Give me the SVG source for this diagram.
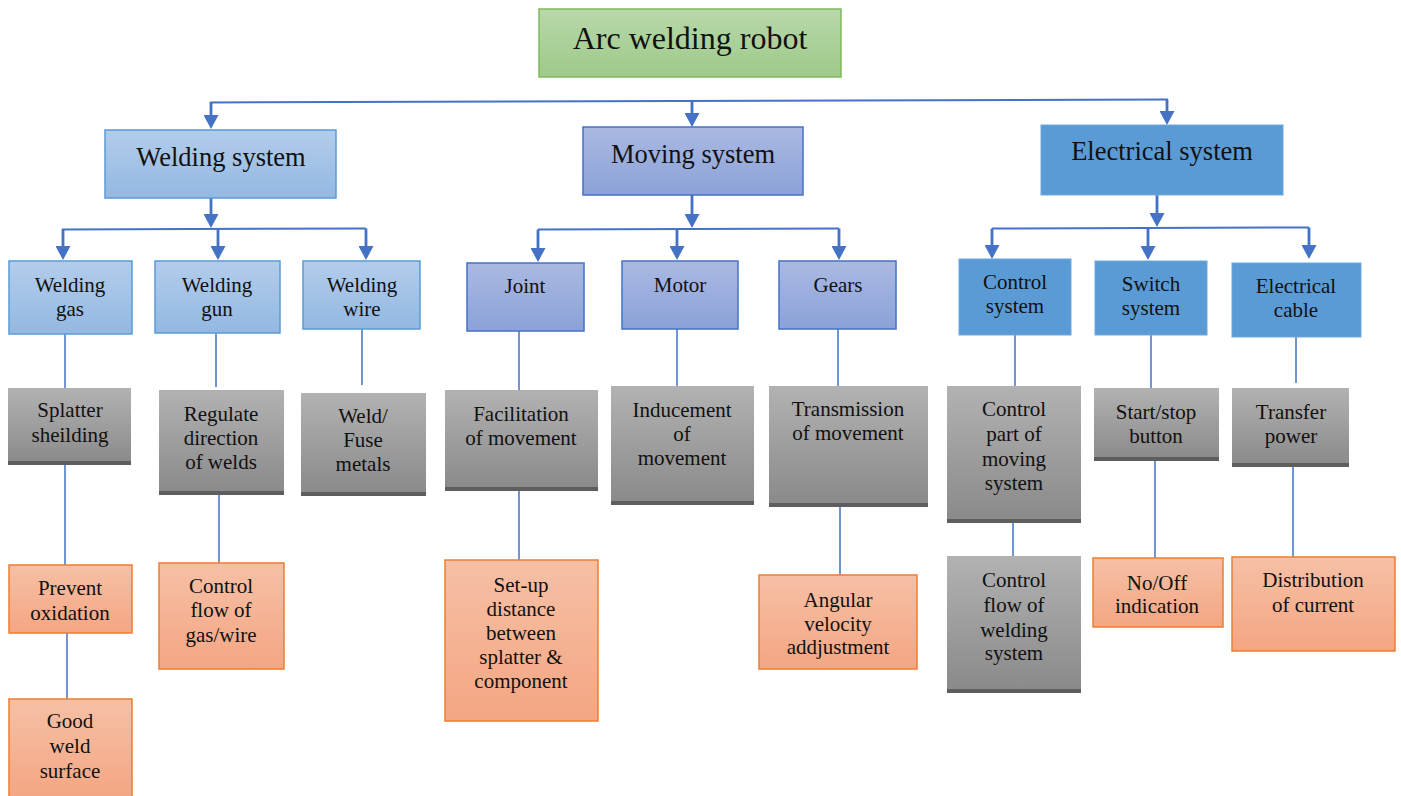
<svg xmlns="http://www.w3.org/2000/svg" width="1401" height="796" viewBox="0 0 1401 796">
  <defs>
    <linearGradient id="gGreen" x1="0" y1="0" x2="0" y2="1">
      <stop offset="0" stop-color="#b8d8aa"/>
      <stop offset="1" stop-color="#9eca8a"/>
    </linearGradient>
    <linearGradient id="gLight" x1="0" y1="0" x2="0" y2="1">
      <stop offset="0" stop-color="#b3cdeb"/>
      <stop offset="1" stop-color="#93b8e2"/>
    </linearGradient>
    <linearGradient id="gPurple" x1="0" y1="0" x2="0" y2="1">
      <stop offset="0" stop-color="#aab9e2"/>
      <stop offset="1" stop-color="#8ba2d8"/>
    </linearGradient>
    <linearGradient id="gGray" x1="0" y1="0" x2="0" y2="1">
      <stop offset="0" stop-color="#b2b2b2"/>
      <stop offset="1" stop-color="#898989"/>
    </linearGradient>
    <linearGradient id="gOrange" x1="0" y1="0" x2="0" y2="1">
      <stop offset="0" stop-color="#f6c0a6"/>
      <stop offset="1" stop-color="#f4a682"/>
    </linearGradient>
    <marker id="ah" markerUnits="userSpaceOnUse" viewBox="0 0 14 15" markerWidth="14" markerHeight="15" refX="9" refY="7.5" orient="auto">
      <path d="M0,0 L14,7.5 L0,15 z" fill="#4472c4"/>
    </marker>
  </defs>
  <style>
    text { font-family: "Liberation Serif", "Times New Roman", serif; fill: #111; text-anchor: middle; }
    .t0 { font-size: 32px; }
    .t1 { font-size: 26.5px; }
    .t2 { font-size: 21px; }
    .root { fill: url(#gGreen); stroke: #7fba5c; stroke-width: 1.5; }
    .light { fill: url(#gLight); stroke: #5b9bd5; stroke-width: 1.5; }
    .purple { fill: url(#gPurple); stroke: #4472c4; stroke-width: 1.5; }
    .solid { fill: #5b9bd5; stroke: #6ea7db; stroke-width: 1; }
    .gray { fill: url(#gGray); }
    .bar { fill: #5e5e5e; }
    .orange { fill: url(#gOrange); stroke: #ed7d31; stroke-width: 1.5; }
    .arrow { fill: none; stroke: #4472c4; stroke-width: 2.8; marker-end: url(#ah); }
    .bus { fill: none; stroke: #4472c4; stroke-width: 2; }
    .link { fill: none; stroke: #4472c4; stroke-width: 1.5; }
  </style>

  <rect width="1401" height="796" fill="#ffffff"/>

  <!-- connectors -->
  <g id="connectors">
    <!-- root to main systems -->
    <path class="bus" d="M210,102.5 L1168,99.5"/>
    <path class="arrow" d="M211,102 L211,124"/>
    <path class="arrow" d="M692,101 L692,122"/>
    <path class="arrow" d="M1167,99.5 L1167,120"/>

    <!-- welding system branch -->
    <path class="arrow" d="M211,198 L211,223"/>
    <path class="bus" d="M63,230 L63,229.5 L366,228.5"/>
    <path class="arrow" d="M63,229 L63,255"/>
    <path class="arrow" d="M218,229 L218,255"/>
    <path class="arrow" d="M366,228.5 L366,255"/>

    <!-- moving system branch -->
    <path class="arrow" d="M692,195 L692,223"/>
    <path class="bus" d="M538,229.5 L839,228.5"/>
    <path class="arrow" d="M538,229.5 L538,257"/>
    <path class="arrow" d="M677,229 L677,255"/>
    <path class="arrow" d="M839,228.5 L839,255"/>

    <!-- electrical system branch -->
    <path class="arrow" d="M1157,195 L1157,222"/>
    <path class="bus" d="M992,228.5 L1309,227.5"/>
    <path class="arrow" d="M992,228.5 L992,254"/>
    <path class="arrow" d="M1148,228 L1148,255"/>
    <path class="arrow" d="M1309,227.5 L1309,254"/>

    <!-- components to functions -->
    <path class="link" d="M65,334 L65,388"/>
    <path class="link" d="M216,333 L216,387"/>
    <path class="link" d="M362,329 L362,385"/>
    <path class="link" d="M519,331 L519,390"/>
    <path class="link" d="M677,326 L677,387"/>
    <path class="link" d="M838,329 L838,387"/>
    <path class="link" d="M1015,335 L1015,386"/>
    <path class="link" d="M1151,335 L1151,388"/>
    <path class="link" d="M1296,337 L1296,383"/>

    <!-- functions to outcomes -->
    <path class="link" d="M65,465 L65,565"/>
    <path class="link" d="M67,633 L67,699"/>
    <path class="link" d="M219,495 L219,563"/>
    <path class="link" d="M519,491 L519,560"/>
    <path class="link" d="M840,507 L840,575"/>
    <path class="link" d="M1013,523 L1013,556"/>
    <path class="link" d="M1155,461 L1155,558"/>
    <path class="link" d="M1293,467 L1293,557"/>
  </g>

  <!-- root -->
  <g id="arc-welding-robot">
    <rect class="root" x="539" y="9" width="302" height="68"/>
    <text class="t0" x="690" y="49">Arc welding robot</text>
  </g>

  <!-- main systems -->
  <g id="welding-system">
    <rect class="light" x="105" y="130" width="231" height="68"/>
    <text class="t1" x="221" y="166">Welding system</text>
  </g>
  <g id="moving-system">
    <rect class="purple" x="583" y="127" width="220" height="68"/>
    <text class="t1" x="693" y="163">Moving system</text>
  </g>
  <g id="electrical-system">
    <rect class="solid" x="1041" y="125" width="242" height="70"/>
    <text class="t1" x="1162" y="160">Electrical system</text>
  </g>

  <!-- components -->
  <g id="welding-gas">
    <rect class="light" x="9" y="261" width="123" height="73"/>
    <text class="t2" x="70" y="292">Welding</text>
    <text class="t2" x="70" y="316">gas</text>
  </g>
  <g id="welding-gun">
    <rect class="light" x="155" y="261" width="125" height="72"/>
    <text class="t2" x="217" y="292">Welding</text>
    <text class="t2" x="217" y="316">gun</text>
  </g>
  <g id="welding-wire">
    <rect class="light" x="303" y="261" width="117" height="68"/>
    <text class="t2" x="362" y="292">Welding</text>
    <text class="t2" x="362" y="316">wire</text>
  </g>
  <g id="joint">
    <rect class="purple" x="467" y="263" width="117" height="68"/>
    <text class="t2" x="525" y="293">Joint</text>
  </g>
  <g id="motor">
    <rect class="purple" x="622" y="261" width="116" height="68"/>
    <text class="t2" x="680" y="292">Motor</text>
  </g>
  <g id="gears">
    <rect class="purple" x="779" y="261" width="117" height="68"/>
    <text class="t2" x="838" y="292">Gears</text>
  </g>
  <g id="control-system">
    <rect class="solid" x="959" y="259" width="112" height="76"/>
    <text class="t2" x="1015" y="289">Control</text>
    <text class="t2" x="1015" y="313">system</text>
  </g>
  <g id="switch-system">
    <rect class="solid" x="1095" y="261" width="112" height="74"/>
    <text class="t2" x="1151" y="291">Switch</text>
    <text class="t2" x="1151" y="315">system</text>
  </g>
  <g id="electrical-cable">
    <rect class="solid" x="1232" y="263" width="129" height="74"/>
    <text class="t2" x="1296" y="293">Electrical</text>
    <text class="t2" x="1296" y="317">cable</text>
  </g>

  <!-- functions -->
  <g id="splatter-sheilding">
    <rect class="gray" x="8" y="388" width="123" height="77"/>
    <rect class="bar" x="8" y="461" width="123" height="4"/>
    <text class="t2" x="70" y="417">Splatter</text>
    <text class="t2" x="70" y="442">sheilding</text>
  </g>
  <g id="regulate-direction">
    <rect class="gray" x="159" y="390" width="125" height="105"/>
    <rect class="bar" x="159" y="491" width="125" height="4"/>
    <text class="t2" x="221" y="421">Regulate</text>
    <text class="t2" x="221" y="445">direction</text>
    <text class="t2" x="221" y="469">of welds</text>
  </g>
  <g id="weld-fuse-metals">
    <rect class="gray" x="301" y="393" width="125" height="103"/>
    <rect class="bar" x="301" y="492" width="125" height="4"/>
    <text class="t2" x="363" y="423">Weld/</text>
    <text class="t2" x="363" y="447">Fuse</text>
    <text class="t2" x="363" y="471">metals</text>
  </g>
  <g id="facilitation-of-movement">
    <rect class="gray" x="445" y="390" width="153" height="101"/>
    <rect class="bar" x="445" y="487" width="153" height="4"/>
    <text class="t2" x="521" y="421">Facilitation</text>
    <text class="t2" x="521" y="445">of movement</text>
  </g>
  <g id="inducement-of-movement">
    <rect class="gray" x="611" y="386" width="143" height="119"/>
    <rect class="bar" x="611" y="501" width="143" height="4"/>
    <text class="t2" x="682" y="417">Inducement</text>
    <text class="t2" x="682" y="441">of</text>
    <text class="t2" x="682" y="465">movement</text>
  </g>
  <g id="transmission-of-movement">
    <rect class="gray" x="769" y="386" width="159" height="121"/>
    <rect class="bar" x="769" y="503" width="159" height="4"/>
    <text class="t2" x="848" y="416">Transmission</text>
    <text class="t2" x="848" y="440">of movement</text>
  </g>
  <g id="control-part-of-moving-system">
    <rect class="gray" x="947" y="386" width="134" height="137"/>
    <rect class="bar" x="947" y="519" width="134" height="4"/>
    <text class="t2" x="1014" y="416">Control</text>
    <text class="t2" x="1014" y="441">part of</text>
    <text class="t2" x="1014" y="466">moving</text>
    <text class="t2" x="1014" y="490">system</text>
  </g>
  <g id="start-stop-button">
    <rect class="gray" x="1094" y="388" width="125" height="73"/>
    <rect class="bar" x="1094" y="457" width="125" height="4"/>
    <text class="t2" x="1156" y="419">Start/stop</text>
    <text class="t2" x="1156" y="443">button</text>
  </g>
  <g id="transfer-power">
    <rect class="gray" x="1232" y="388" width="117" height="79"/>
    <rect class="bar" x="1232" y="463" width="117" height="4"/>
    <text class="t2" x="1291" y="419">Transfer</text>
    <text class="t2" x="1291" y="443">power</text>
  </g>
  <g id="control-flow-of-welding-system">
    <rect class="gray" x="947" y="556" width="134" height="137"/>
    <rect class="bar" x="947" y="689" width="134" height="4"/>
    <text class="t2" x="1014" y="587">Control</text>
    <text class="t2" x="1014" y="612">flow of</text>
    <text class="t2" x="1014" y="637">welding</text>
    <text class="t2" x="1014" y="660">system</text>
  </g>

  <!-- outcomes -->
  <g id="prevent-oxidation">
    <rect class="orange" x="9" y="565" width="123" height="68"/>
    <text class="t2" x="70" y="595">Prevent</text>
    <text class="t2" x="70" y="620">oxidation</text>
  </g>
  <g id="good-weld-surface">
    <rect class="orange" x="9" y="699" width="123" height="100"/>
    <text class="t2" x="70" y="728">Good</text>
    <text class="t2" x="70" y="753">weld</text>
    <text class="t2" x="70" y="778">surface</text>
  </g>
  <g id="control-flow-of-gas-wire">
    <rect class="orange" x="159" y="563" width="125" height="106"/>
    <text class="t2" x="221" y="593">Control</text>
    <text class="t2" x="221" y="617">flow of</text>
    <text class="t2" x="221" y="642">gas/wire</text>
  </g>
  <g id="set-up-distance">
    <rect class="orange" x="445" y="560" width="153" height="161"/>
    <text class="t2" x="521" y="592">Set-up</text>
    <text class="t2" x="521" y="616">distance</text>
    <text class="t2" x="521" y="640">between</text>
    <text class="t2" x="521" y="664">splatter &amp;</text>
    <text class="t2" x="521" y="688">component</text>
  </g>
  <g id="angular-velocity-addjustment">
    <rect class="orange" x="759" y="575" width="158" height="94"/>
    <text class="t2" x="838" y="607">Angular</text>
    <text class="t2" x="838" y="631">velocity</text>
    <text class="t2" x="838" y="654">addjustment</text>
  </g>
  <g id="no-off-indication">
    <rect class="orange" x="1093" y="558" width="130" height="69"/>
    <text class="t2" x="1157" y="590">No/Off</text>
    <text class="t2" x="1157" y="613">indication</text>
  </g>
  <g id="distribution-of-current">
    <rect class="orange" x="1232" y="557" width="163" height="94"/>
    <text class="t2" x="1313" y="587">Distribution</text>
    <text class="t2" x="1313" y="612">of current</text>
  </g>
</svg>
